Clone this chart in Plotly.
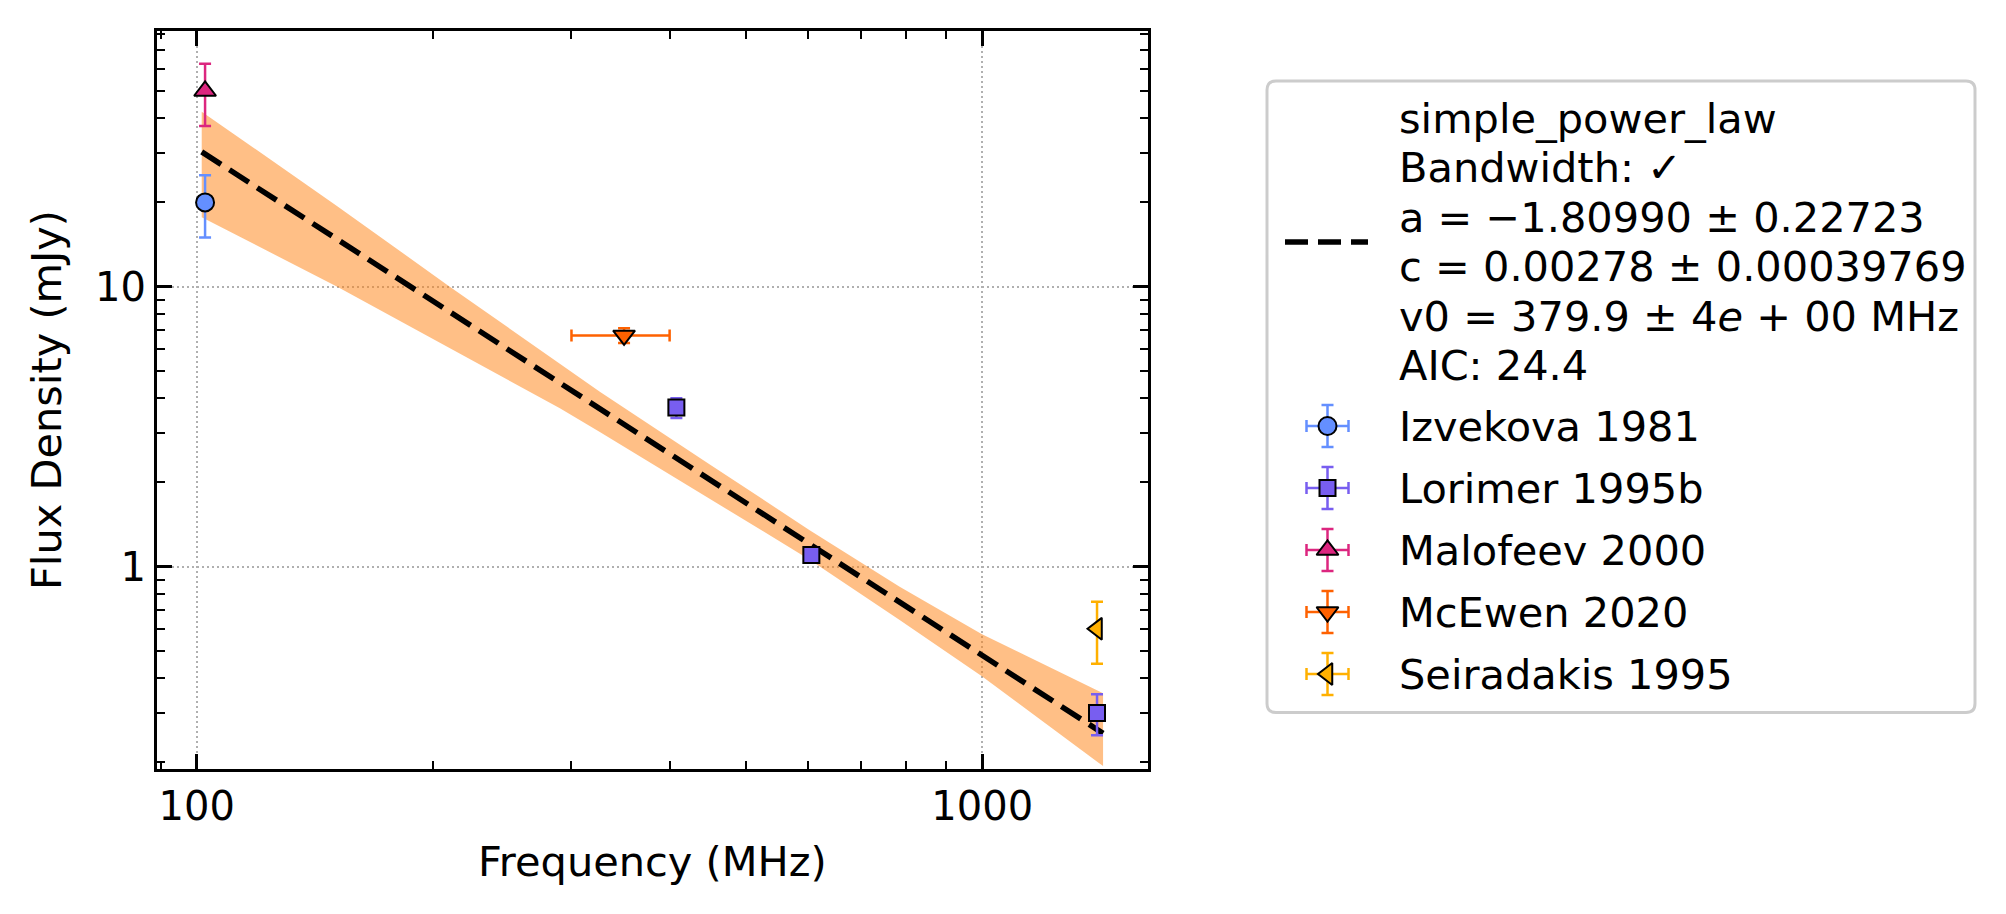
import math
import plotly.graph_objects as go

W, H = 2006, 914
FONT = "DejaVu Sans"
FS = 41.5
FS_TICK = 40

# ---------------- data ----------------
izvekova_freq = [102.5]
izvekova_flux = [20.0]
izvekova_err = [5.0]

lorimer_freq = [408.0, 606.0, 1400.0]
lorimer_flux = [3.70, 1.10, 0.30]
lorimer_err = [0.30, 0.05, 0.05]

malofeev_freq = [102.5]
malofeev_flux = [50.0]
malofeev_err = [12.5]

mcewen_freq = [350.0]
mcewen_flux = [6.7]
mcewen_err = [0.4]
mcewen_freq_err = [50.0]

seiradakis_freq = [1400.0]
seiradakis_flux = [0.60]
seiradakis_err = [0.15]

fit_freq = [101.5, 1425.0]
fit_flux = [30.3, 0.254]

band_freq = [101.5, 151.0, 210.0, 290.0, 326.0, 450.0, 603.0, 785.0, 998.0, 1425.0]
band_upper = [42.2, 19.4, 10.0, 5.33, 4.22, 2.32, 1.35, 0.848, 0.575, 0.353]
band_lower = [17.7, 10.0, 6.04, 3.68, 3.03, 1.75, 1.06, 0.645, 0.407, 0.194]

x_tickvals = [100, 1000]
x_ticktext = ["100", "1000"]
x_minor = [90, 200, 300, 400, 500, 600, 700, 800, 900]
y_tickvals = [1, 10]
y_ticktext = ["1", "10"]
y_minor = [0.2, 0.3, 0.4, 0.5, 0.6, 0.7, 0.8, 0.9, 2, 3, 4, 5, 6, 7, 8, 9,
           20, 30, 40, 50, 60, 70, 80]
x_range = [88.95, 1627.0]
y_range = [0.189, 82.1]

fit_text = ["simple_power_law", "Bandwidth: \u2713",
            "a = \u22121.80990 \u00b1 0.22723",
            "c = 0.00278 \u00b1 0.00039769",
            "v0 = 379.9 \u00b1 4<i>e</i> + 00 MHz",
            "AIC: 24.4"]

series_names = ["Izvekova 1981", "Lorimer 1995b", "Malofeev 2000",
                "McEwen 2020", "Seiradakis 1995"]
series_colors = ["#648FFF", "#785EF0", "#DC267F", "#FE6100", "#FFB000"]
series_symbols = ["circle", "square", "triangle-up", "triangle-down", "triangle-left"]
series_sizes = [18, 16, 19, 19, 19]

# ---------------- figure ----------------
fig = go.Figure()

# uncertainty band
fig.add_trace(go.Scatter(
    x=band_freq + band_freq[::-1],
    y=band_upper + band_lower[::-1],
    fill="toself", fillcolor="rgba(255,127,14,0.5)",
    line=dict(width=0), mode="lines", hoverinfo="skip",
    showlegend=False, xaxis="x", yaxis="y"))

# fit line
DASH = "23px,10px"
fig.add_trace(go.Scatter(
    x=fit_freq, y=fit_flux, mode="lines",
    line=dict(color="black", width=5.5, dash=DASH),
    hoverinfo="skip", showlegend=False, xaxis="x", yaxis="y"))

series = [
    (izvekova_freq, izvekova_flux, izvekova_err, None),
    (lorimer_freq, lorimer_flux, lorimer_err, None),
    (malofeev_freq, malofeev_flux, malofeev_err, None),
    (mcewen_freq, mcewen_flux, mcewen_err, mcewen_freq_err),
    (seiradakis_freq, seiradakis_flux, seiradakis_err, None),
]
for (fx, fy, ey, ex), name, col, sym, sz in zip(series, series_names, series_colors,
                                               series_symbols, series_sizes):
    kw = {}
    if ex is not None:
        kw["error_x"] = dict(type="data", array=ex, color=col, thickness=2.5, width=6)
    fig.add_trace(go.Scatter(
        x=fx, y=fy, mode="markers", name=name,
        marker=dict(symbol=sym, size=sz, color=col, line=dict(color="black", width=2)),
        error_y=dict(type="data", array=ey, color=col, thickness=2.5, width=6),
        hoverinfo="skip", showlegend=False, xaxis="x", yaxis="y", **kw))

# ---------------- custom legend (pixel coordinates on a hidden axis) -------------
LX0, LX1, LY0, LY1 = 1267.0, 1975.0, 81.0, 712.5
fit_rows_y = [118, 167.5, 217, 266.5, 316, 365.5]
entry_rows_y = [426, 488, 550, 612, 674]
handle_x = 1327.5
text_x = 1397

fig.add_trace(go.Scatter(
    x=[1285, 1368], y=[242, 242], mode="lines",
    line=dict(color="black", width=5.5, dash=DASH),
    hoverinfo="skip", showlegend=False, xaxis="x2", yaxis="y2"))
for yy, col, sym, sz in zip(entry_rows_y, series_colors, series_symbols, series_sizes):
    fig.add_trace(go.Scatter(
        x=[handle_x], y=[yy], mode="markers",
        marker=dict(symbol=sym, size=sz, color=col, line=dict(color="black", width=2)),
        error_x=dict(type="data", array=[21], color=col, thickness=2.5, width=6),
        error_y=dict(type="data", array=[21], color=col, thickness=2.5, width=6),
        hoverinfo="skip", showlegend=False, xaxis="x2", yaxis="y2"))

annotations = []
for yy, t in zip(fit_rows_y, fit_text):
    annotations.append(dict(x=text_x, y=yy, xref="x2", yref="y2", text=t,
                            showarrow=False, xanchor="left", yanchor="middle",
                            font=dict(family=FONT, size=FS, color="black")))
for yy, t in zip(entry_rows_y, series_names):
    annotations.append(dict(x=text_x, y=yy, xref="x2", yref="y2", text=t,
                            showarrow=False, xanchor="left", yanchor="middle",
                            font=dict(family=FONT, size=FS, color="black")))
# axis titles
annotations.append(dict(x=652.5 / W, y=(H - 861) / H, xref="paper", yref="paper",
                        text="Frequency (MHz)", showarrow=False,
                        xanchor="center", yanchor="middle",
                        font=dict(family=FONT, size=FS, color="black")))
annotations.append(dict(x=46 / W, y=(H - 400) / H, xref="paper", yref="paper",
                        text="Flux Density (mJy)", showarrow=False, textangle=-90,
                        xanchor="center", yanchor="middle",
                        font=dict(family=FONT, size=FS, color="black")))

r = 9
box_path = (f"M {LX0 + r},{LY0} L {LX1 - r},{LY0} Q {LX1},{LY0} {LX1},{LY0 + r} "
            f"L {LX1},{LY1 - r} Q {LX1},{LY1} {LX1 - r},{LY1} "
            f"L {LX0 + r},{LY1} Q {LX0},{LY1} {LX0},{LY1 - r} "
            f"L {LX0},{LY0 + r} Q {LX0},{LY0} {LX0 + r},{LY0} Z")
shapes = [dict(type="path", path=box_path, xref="x2", yref="y2",
               line=dict(color="#cccccc", width=3), fillcolor="white", layer="below")]

tickfont = dict(family=FONT, size=FS_TICK, color="black")
common = dict(type="log", showline=True, linecolor="black", linewidth=2.7,
              mirror="ticks", ticks="inside", ticklen=15, tickwidth=2.7,
              tickcolor="black", tickmode="array", tickfont=tickfont,
              showgrid=True, gridcolor="#b0b0b0", gridwidth=2, griddash="2px,3px",
              zeroline=False, automargin=False, fixedrange=True)

fig.update_layout(
    width=W, height=H,
    margin=dict(l=0, r=0, t=0, b=0),
    paper_bgcolor="white", plot_bgcolor="rgba(0,0,0,0)",
    font=dict(family=FONT, size=FS, color="black"),
    xaxis=dict(**common, range=[math.log10(v) for v in x_range],
               domain=[156.7 / W, 1148.3 / W], anchor="y",
               tickvals=x_tickvals, ticktext=x_ticktext,
               minor=dict(tickmode="array", tickvals=x_minor, ticks="inside",
                          ticklen=8, tickwidth=2, tickcolor="black", showgrid=False)),
    yaxis=dict(**common, range=[math.log10(v) for v in y_range],
               domain=[(H - 769.3) / H, (H - 30.7) / H], anchor="x",
               tickvals=y_tickvals, ticktext=y_ticktext,
               minor=dict(tickmode="array", tickvals=y_minor, ticks="inside",
                          ticklen=8, tickwidth=2, tickcolor="black", showgrid=False)),
    xaxis2=dict(range=[LX0 - 2, LX1 + 2], domain=[(LX0 - 2) / W, (LX1 + 2) / W],
                anchor="y2", visible=False, fixedrange=True),
    yaxis2=dict(range=[LY1 + 2, LY0 - 2], domain=[(H - LY1 - 2) / H, (H - LY0 + 2) / H],
                anchor="x2", visible=False, fixedrange=True),
    annotations=annotations,
    shapes=shapes,
    showlegend=False,
)

fig.write_html("out.html", config={"displayModeBar": False, "staticPlot": True})
